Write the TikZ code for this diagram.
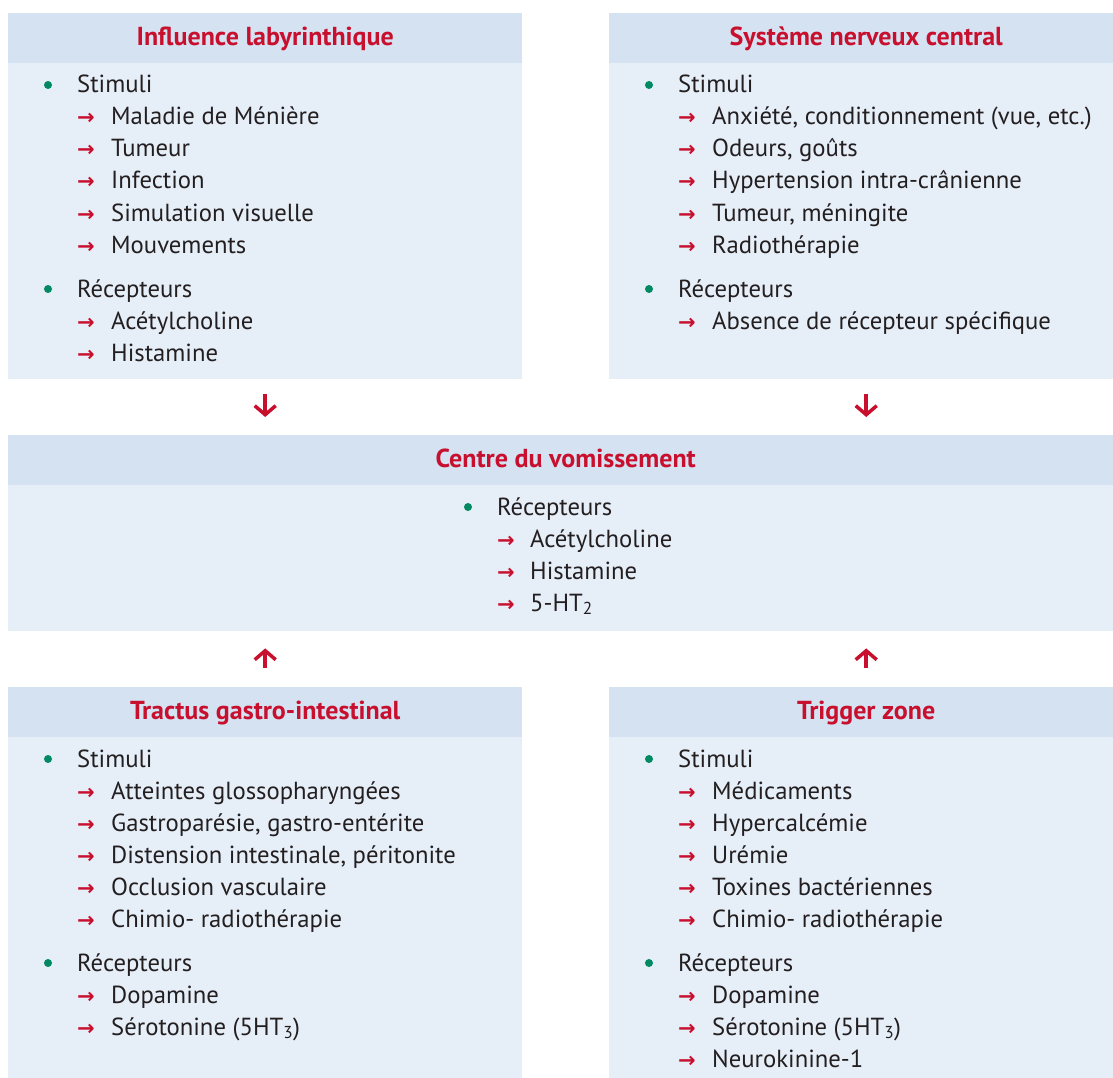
\documentclass[tikz,border=0pt]{standalone}
\usepackage{fontspec}
\setmainfont{PT Sans}
\newfontfamily\arrowfont{DejaVu Sans}
\usetikzlibrary{arrows.meta,positioning}

\definecolor{headblue}{HTML}{D4E2F2}
\definecolor{bodyblue}{HTML}{E6EEF8}
\definecolor{titlered}{HTML}{C8102E}
\definecolor{dotgreen}{HTML}{008A62}
\definecolor{textgray}{HTML}{231F20}

\begin{document}
\begin{tikzpicture}[x=1pt,y=-1pt]
        \tikzstyle{box}=[fill=bodyblue,anchor=north west,inner sep=0pt]
        \tikzstyle{head}=[fill=headblue,anchor=north west,inner sep=0pt,minimum height=50pt,
                          text=titlered,font=\bfseries\fontsize{26}{26}\selectfont,
                          text height=18pt,text depth=4pt]
        \tikzstyle{dot}=[circle,fill=dotgreen,minimum size=8pt,inner sep=0pt]
        \tikzstyle{arr}=[anchor=base,inner sep=0pt,text=titlered,
                         font=\arrowfont\bfseries\fontsize{21}{21}\selectfont]
        \tikzstyle{txt}=[anchor=base west,inner sep=0pt,text=textgray,
                         font=\fontsize{24.7}{24.7}\selectfont]
        \tikzstyle{flow}=[draw=titlered,line width=3.5pt,
                          -{Straight Barb[length=9pt,width=21pt]}]

        \useasboundingbox (0,0) rectangle (1113,1078);
        \clip (0,0) rectangle (1113,1078);

        % the five boxes
        \node[box,minimum width=514pt,minimum height=366pt] (lab) at (8,13) {};
        \node[head,minimum width=514pt] (lab-h) at (8,13) {Influence labyrinthique};
        \node[box,minimum width=514pt,minimum height=366pt] (snc) at (609,13) {};
        \node[head,minimum width=514pt] (snc-h) at (609,13) {Système nerveux central};
        \node[box,minimum width=1115pt,minimum height=196pt] (cen) at (8,435) {};
        \node[head,minimum width=1115pt] (cen-h) at (8,435) {Centre du vomissement};
        \node[box,minimum width=514pt,minimum height=400pt] (gas) at (8,687) {};
        \node[head,minimum width=514pt] (gas-h) at (8,687) {Tractus gastro-intestinal};
        \node[box,minimum width=514pt,minimum height=400pt] (trz) at (609,687) {};
        \node[head,minimum width=514pt] (trz-h) at (609,687) {Trigger zone};

        % Influence labyrinthique
        \foreach \y/\t [count=\i] in {93/Stimuli, 297/Récepteurs}
          { \node[dot] (lab-d\i) at (48,\y-8) {};
            \node[txt] (lab-s\i) at (77,\y) {\t}; }
        \foreach \y/\t [count=\i] in {125/Maladie de Ménière, 157/Tumeur, 189/Infection,
                                      221/Simulation visuelle, 253/Mouvements,
                                      329/Acétylcholine, 361/Histamine}
          { \node[arr] (lab-a\i) at (86,\y) {→};
            \node[txt] (lab-t\i) at (111,\y) {\t}; }

        % Systeme nerveux central
        \foreach \y/\t [count=\i] in {93/Stimuli, 297/Récepteurs}
          { \node[dot] (snc-d\i) at (649,\y-8) {};
            \node[txt] (snc-s\i) at (678,\y) {\t}; }
        \foreach \y/\t [count=\i] in {{125/Anxiété, conditionnement (vue, etc.)},
                                      {157/Odeurs, goûts}, 189/Hypertension intra-crânienne,
                                      {221/Tumeur, méningite}, 253/Radiothérapie,
                                      329/Absence de récepteur spécifique}
          { \node[arr] (snc-a\i) at (687,\y) {→};
            \node[txt] (snc-t\i) at (712,\y) {\t}; }

        % Centre du vomissement
        \node[dot] (cen-d1) at (468,507) {};
        \node[txt] (cen-s1) at (497,515) {Récepteurs};
        \foreach \y/\t [count=\i] in {547/Acétylcholine, 579/Histamine, 611/5-HT\textsubscript{2}}
          { \node[arr] (cen-a\i) at (506,\y) {→};
            \node[txt] (cen-t\i) at (530,\y) {\t}; }

        % Tractus gastro-intestinal
        \foreach \y/\t [count=\i] in {767/Stimuli, 971/Récepteurs}
          { \node[dot] (gas-d\i) at (48,\y-8) {};
            \node[txt] (gas-s\i) at (77,\y) {\t}; }
        \foreach \y/\t [count=\i] in {799/Atteintes glossopharyngées,
                                      {831/Gastroparésie, gastro-entérite},
                                      {863/Distension intestinale, péritonite},
                                      895/Occlusion vasculaire, 927/Chimio- radiothérapie,
                                      1003/Dopamine, 1035/Sérotonine (5HT\textsubscript{3})}
          { \node[arr] (gas-a\i) at (86,\y) {→};
            \node[txt] (gas-t\i) at (111,\y) {\t}; }

        % Trigger zone
        \foreach \y/\t [count=\i] in {767/Stimuli, 971/Récepteurs}
          { \node[dot] (trz-d\i) at (649,\y-8) {};
            \node[txt] (trz-s\i) at (678,\y) {\t}; }
        \foreach \y/\t [count=\i] in {799/Médicaments, 831/Hypercalcémie, 863/Urémie,
                                      895/Toxines bactériennes, 927/Chimio- radiothérapie,
                                      1003/Dopamine, 1035/Sérotonine (5HT\textsubscript{3}),
                                      1067/Neurokinine-1}
          { \node[arr] (trz-a\i) at (687,\y) {→};
            \node[txt] (trz-t\i) at (712,\y) {\t}; }

        % arrows towards the centre
        \draw[flow,shorten <=15pt,shorten >=18pt] (lab.south) -- (lab.south |- cen.north);
        \draw[flow,shorten <=15pt,shorten >=18pt] (snc.south) -- (snc.south |- cen.north);
        \draw[flow,shorten <=19pt,shorten >=17pt] (gas.north) -- (gas.north |- cen.south);
        \draw[flow,shorten <=19pt,shorten >=17pt] (trz.north) -- (trz.north |- cen.south);
      \end{tikzpicture}
\end{document}
